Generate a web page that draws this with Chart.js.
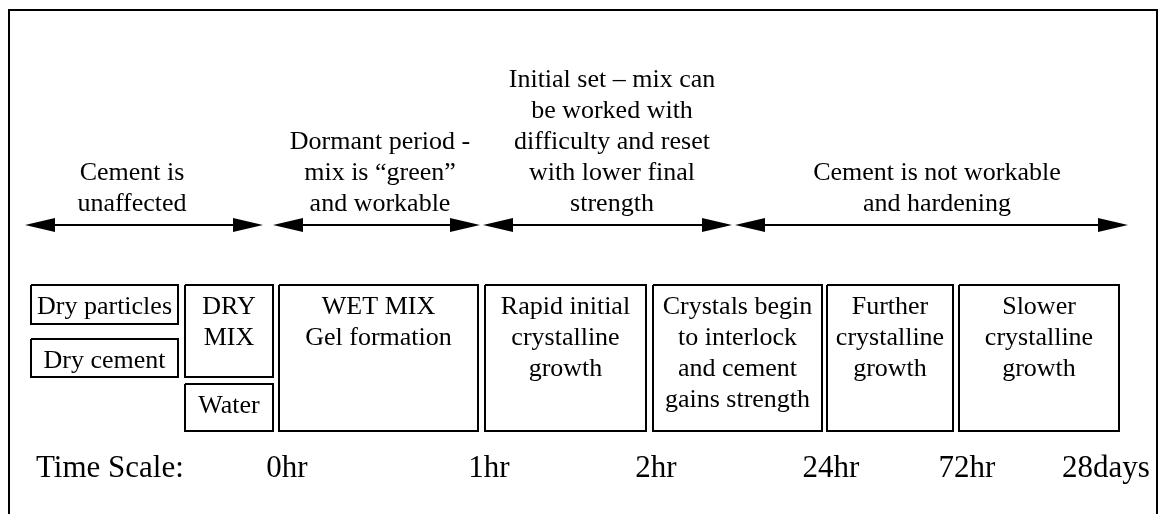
<!DOCTYPE html>
<html>
<head>
<meta charset="utf-8">
<script src="https://cdn.jsdelivr.net/npm/chart.js@4"></script>
<style>
  html, body { margin: 0; padding: 0; background: #fff; }
  #wrap { width: 1165px; height: 514px; position: relative; }
</style>
</head>
<body>
<div id="wrap"><canvas id="cementChart"></canvas></div>
<script>
// phases of setting, drawn as double arrows with a caption above
const phaseLabels = [
  ['Cement is', 'unaffected'],
  ['Dormant period -', 'mix is \u201cgreen\u201d', 'and workable'],
  ['Initial set \u2013 mix can', 'be worked with', 'difficulty and reset', 'with lower final', 'strength'],
  ['Cement is not workable', 'and hardening']
];
const phaseFrom = [25, 273, 483, 735];
const phaseTo = [263, 480, 732, 1128];
const phaseLabelX = [132, 380, 612, 937];

// stage boxes
const boxLabels = [
  ['Dry particles'], ['Dry cement'], ['DRY', 'MIX'], ['Water'],
  ['WET MIX', 'Gel formation'],
  ['Rapid initial', 'crystalline', 'growth'],
  ['Crystals begin', 'to interlock', 'and cement', 'gains strength'],
  ['Further', 'crystalline', 'growth'],
  ['Slower', 'crystalline', 'growth']
];
const boxLeft = [31, 31, 185, 185, 279, 485, 653, 827, 959];
const boxRight = [178, 178, 273, 273, 478, 646, 822, 953, 1119];
const boxTop = [285, 339, 285, 384, 285, 285, 285, 285, 285];
const boxBottom = [324, 377, 377, 431, 431, 431, 431, 431, 431];

// time scale
const timeTitle = 'Time Scale:';
const timeLabels = ['0hr', '1hr', '2hr', '24hr', '72hr', '28days'];
const timeAt = [287, 489, 656, 831, 967, 1106];

const ARROW_Y = 225;
const SERIF = '"Liberation Serif", "Times New Roman", serif';

function rect(l, r, t, b) {
  return [{ x: l, y: t }, { x: r, y: t }, { x: r, y: b }, { x: l, y: b }, { x: l, y: t }];
}

const datasets = [];
// outer frame (open at the bottom)
datasets.push({
  data: [{ x: 9, y: 514 }, { x: 9, y: 10 }, { x: 1157, y: 10 }, { x: 1157, y: 514 }],
  borderColor: '#000', borderWidth: 2
});
boxLabels.forEach((_, i) => {
  datasets.push({
    data: rect(boxLeft[i], boxRight[i], boxTop[i], boxBottom[i]),
    borderColor: '#000', borderWidth: 2
  });
});
phaseLabels.forEach((_, i) => {
  datasets.push({
    data: [{ x: phaseFrom[i] + 10, y: ARROW_Y }, { x: phaseTo[i] - 10, y: ARROW_Y }],
    borderColor: '#000', borderWidth: 2
  });
});

const diagramText = {
  id: 'diagramText',
  afterDatasetsDraw(chart) {
    const ctx = chart.ctx;
    const xs = chart.scales.x, ys = chart.scales.y;
    ctx.save();
    ctx.fillStyle = '#000';

    // arrow heads
    phaseLabels.forEach((_, i) => {
      const y = ys.getPixelForValue(ARROW_Y);
      const a = xs.getPixelForValue(phaseFrom[i]);
      const b = xs.getPixelForValue(phaseTo[i]);
      ctx.beginPath();
      ctx.moveTo(a, y); ctx.lineTo(a + 30, y - 7); ctx.lineTo(a + 30, y + 7); ctx.closePath();
      ctx.fill();
      ctx.beginPath();
      ctx.moveTo(b, y); ctx.lineTo(b - 30, y - 7); ctx.lineTo(b - 30, y + 7); ctx.closePath();
      ctx.fill();
    });

    ctx.font = '26px ' + SERIF;
    ctx.textAlign = 'center';
    ctx.textBaseline = 'alphabetic';

    // phase captions, bottom line sits just above the arrow
    phaseLabels.forEach((lines, i) => {
      const x = xs.getPixelForValue(phaseLabelX[i]);
      lines.forEach((s, k) => {
        const y = ys.getPixelForValue(211 - (lines.length - 1 - k) * 31);
        ctx.fillText(s, x, y);
      });
    });

    // box captions
    boxLabels.forEach((lines, i) => {
      const x = xs.getPixelForValue((boxLeft[i] + boxRight[i]) / 2);
      lines.forEach((s, k) => {
        ctx.fillText(s, x, ys.getPixelForValue(boxTop[i] + 29 + k * 31));
      });
    });

    // time scale row
    ctx.font = '31px ' + SERIF;
    ctx.textAlign = 'left';
    ctx.fillText(timeTitle, xs.getPixelForValue(36), ys.getPixelForValue(477));
    ctx.textAlign = 'center';
    timeLabels.forEach((s, i) => {
      ctx.fillText(s, xs.getPixelForValue(timeAt[i]), ys.getPixelForValue(477));
    });
    ctx.restore();
  }
};

new Chart(document.getElementById('cementChart'), {
  type: 'scatter',
  data: { datasets: datasets.map(d => Object.assign({ showLine: true, pointRadius: 0, fill: false, tension: 0 }, d)) },
  options: {
    responsive: true,
    maintainAspectRatio: false,
    animation: false,
    events: [],
    layout: { padding: 0 },
    plugins: { legend: { display: false }, tooltip: { enabled: false } },
    scales: {
      x: { type: 'linear', min: 0, max: 1165, display: false },
      y: { type: 'linear', min: 0, max: 514, reverse: true, display: false }
    }
  },
  plugins: [diagramText]
});
</script>
</body>
</html>
